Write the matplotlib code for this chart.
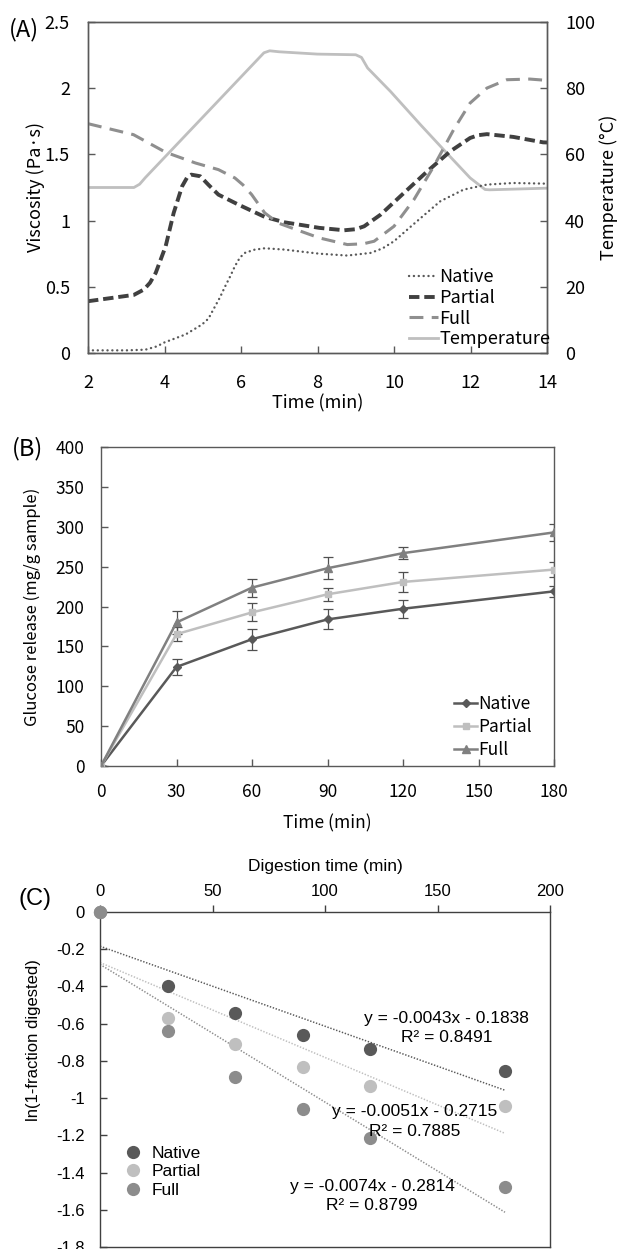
import matplotlib
matplotlib.use("Agg")
import matplotlib.pyplot as plt
from matplotlib.ticker import FuncFormatter
import numpy as np

plt.rcParams['axes.unicode_minus'] = False
plt.rcParams['lines.scale_dashes'] = False

# ---------------- Panel A data (RVA pasting) ----------------
native_t = [2.0, 3.0, 3.5, 3.8, 4.0, 4.55, 4.98, 5.15, 5.28, 5.45, 5.58, 5.72, 5.84, 5.97, 6.10,
            6.35, 6.62, 7.14, 7.6, 8.05, 8.78, 9.39, 9.7, 10.0, 10.3, 10.6, 11.21, 11.82, 12.43, 13.12, 14.0]
native_v = [0.02, 0.02, 0.025, 0.05, 0.08, 0.14, 0.215, 0.26, 0.33, 0.42, 0.50, 0.58, 0.655, 0.72, 0.756,
            0.78, 0.791, 0.781, 0.765, 0.75, 0.736, 0.756, 0.79, 0.844, 0.92, 0.995, 1.146, 1.234, 1.272, 1.284, 1.279]

partial_t = [2.0, 3.2, 3.46, 3.62, 3.77, 4.03, 4.24, 4.46, 4.60, 4.70, 4.935, 5.15, 5.41, 5.93, 6.62,
             7.14, 8.05, 8.70, 9.0, 9.22, 9.65, 10.26, 10.87, 11.47, 11.99, 12.2, 12.43, 13.12, 13.9, 14.0]
partial_v = [0.391, 0.439, 0.479, 0.53, 0.605, 0.806, 1.058, 1.259, 1.33, 1.347, 1.335, 1.27, 1.196, 1.121, 1.028,
             0.987, 0.945, 0.927, 0.935, 0.957, 1.045, 1.209, 1.372, 1.523, 1.624, 1.645, 1.653, 1.632, 1.591, 1.59]

full_t = [2.0, 3.19, 4.03, 4.81, 5.41, 5.84, 6.05, 6.28, 6.62, 6.97, 7.49, 8.05, 8.78, 9.2, 9.48,
          10.0, 10.52, 11.04, 11.56, 11.99, 12.43, 12.95, 13.55, 14.0]
full_v = [1.732, 1.649, 1.516, 1.435, 1.385, 1.322, 1.27, 1.196, 1.058, 0.982, 0.927, 0.869, 0.819, 0.825, 0.844,
          0.957, 1.158, 1.41, 1.687, 1.888, 2.001, 2.064, 2.069, 2.059]

temp_t = [2.0, 3.2, 3.35, 3.5, 6.6, 6.75, 7.0, 8.0, 9.0, 9.15, 9.31, 9.91, 10.69, 11.38, 11.99, 12.38, 12.5, 14.0]
temp_v = [50, 50, 51, 53, 90.7, 91.3, 91.0, 90.3, 90.1, 89.3, 86.1, 79, 69, 60.4, 52.9, 49.4, 49.3, 49.8]

# ---------------- Panel B data (glucose release) ----------------
b_time = [0, 30, 60, 90, 120, 180]
b_native = [0, 124.2, 159.0, 183.8, 197.2, 219.0]
b_native_err = [0, 10.0, 13.4, 12.6, 11.3, 7.0]
b_partial = [0, 165.3, 192.6, 215.3, 230.8, 246.3]
b_partial_err = [0, 9.0, 11.3, 7.8, 12.0, 9.0]
b_full = [0, 180.0, 223.7, 248.0, 266.9, 292.9]
b_full_err = [0, 14.0, 11.3, 14.0, 7.3, 11.0]

# ---------------- Panel C data (first-order kinetics) ----------------
c_time = [0, 30, 60, 90, 120, 180]
c_native = [0, -0.395, -0.543, -0.659, -0.738, -0.856]
c_partial = [0, -0.570, -0.707, -0.834, -0.935, -1.043]
c_full = [0, -0.641, -0.888, -1.061, -1.213, -1.477]
c_slopes = [-0.0043, -0.0051, -0.0074]
c_intercepts = [-0.1838, -0.2715, -0.2814]
c_r2 = [0.8491, 0.7885, 0.8799]
c_fit_range = [0, 180]

W, H = 618, 1249
fig = plt.figure(figsize=(W / 100, H / 100), dpi=100)

def fbox(l, t, r, b):
    return [l / W, 1 - b / H, (r - l) / W, (b - t) / H]

KR = ['Noto Sans CJK KR', 'DejaVu Sans']
AR = ['Liberation Sans', 'DejaVu Sans']
spine_c = '#595959'

def g_fmt(v, pos):
    return ('%g' % (round(v, 2) + 0.0))

# ================= Panel A =================
axA = fig.add_axes(fbox(88, 22, 547, 353))
axA2 = axA.twinx()
col_nat, col_par, col_full, col_temp = '#595959', '#404040', '#8f8f8f', '#bfbfbf'
lt, = axA2.plot(temp_t, temp_v, color=col_temp, lw=2.0, solid_joinstyle='round', label='Temperature')
ln, = axA.plot(native_t, native_v, color=col_nat, lw=1.7, linestyle=(0, (0.1, 3.4)),
               dash_capstyle='round', label='Native')
lp, = axA.plot(partial_t, partial_v, color=col_par, lw=2.8, linestyle=(0, (7.5, 3.5)), label='Partial')
lf, = axA.plot(full_t, full_v, color=col_full, lw=2.2, linestyle=(0, (10, 6)), label='Full')
axA.set_zorder(axA2.get_zorder() + 1)
axA.patch.set_visible(False)
axA.set_xlim(2, 14)
axA.set_ylim(0, 2.5)
axA2.set_ylim(0, 100)
axA.set_xticks(np.arange(2, 15, 2))
axA.set_yticks(np.arange(0, 2.51, 0.5))
axA2.set_yticks(np.arange(0, 101, 20))
axA.yaxis.set_major_formatter(FuncFormatter(g_fmt))
for ax in (axA, axA2):
    for s in ax.spines.values():
        s.set_color(spine_c)
        s.set_linewidth(1.0)
    ax.tick_params(direction='in', length=5, width=1, color=spine_c, labelsize=13, pad=13)
    for lab in ax.get_xticklabels() + ax.get_yticklabels():
        lab.set_family(KR)
axA.tick_params(axis='x', pad=15)
axA.set_xlabel('Time (min)', fontsize=13, family=KR)
axA.xaxis.set_label_coords(0.5, -0.124)
axA.set_ylabel('Viscosity (Pa·s)', fontsize=13, family=KR)
axA.yaxis.set_label_coords(-0.094, 0.5)
axA2.set_ylabel('Temperature (°C)', fontsize=13, family=KR)
axA2.yaxis.set_label_coords(1.113, 0.5)
legA = axA.legend(handles=[ln, lp, lf, lt], loc='upper left', bbox_to_anchor=(0.70, 0.256),
                  frameon=False, borderpad=0, borderaxespad=0, handlelength=1.6, handletextpad=0.05,
                  labelspacing=0.15, prop={'family': KR, 'size': 13})
fig.text(9 / W, 1 - 30 / H, '(A)', fontsize=17, family=KR, va='center', ha='left')

# ================= Panel B =================
axB = fig.add_axes(fbox(101, 447, 554, 766))
cb_nat, cb_par, cb_full = '#595959', '#bfbfbf', '#808080'
err_c = '#505050'
hb = []
for y, e, col, mk, ms, lab in [(b_native, b_native_err, cb_nat, 'D', 4.5, 'Native'),
                               (b_partial, b_partial_err, cb_par, 's', 5, 'Partial'),
                               (b_full, b_full_err, cb_full, '^', 5.5, 'Full')]:
    axB.errorbar(b_time, y, yerr=e, fmt='none', ecolor=err_c, elinewidth=0.9, capsize=3.5, capthick=0.9, zorder=2)
    h, = axB.plot(b_time, y, color=col, lw=1.8, marker=mk, markersize=ms, markerfacecolor=col,
                  markeredgecolor=col, label=lab, zorder=3)
    hb.append(h)
axB.set_xlim(0, 180)
axB.set_ylim(0, 400)
axB.set_xticks(b_time[:5] + [150, 180])
axB.set_yticks(np.arange(0, 401, 50))
for s in axB.spines.values():
    s.set_color(spine_c)
    s.set_linewidth(1.0)
axB.tick_params(direction='in', length=5, width=1, color=spine_c, labelsize=12.5, pad=12)
axB.tick_params(axis='x', pad=12)
for lab in axB.get_xticklabels() + axB.get_yticklabels():
    lab.set_family(KR)
axB.set_xlabel('Time (min)', fontsize=12.5, family=KR)
axB.xaxis.set_label_coords(0.5, -0.150)
axB.set_ylabel('Glucose release (mg/g sample)', fontsize=12, family=KR)
axB.yaxis.set_label_coords(-0.132, 0.5)
axB.legend(handles=hb, loc='upper left', bbox_to_anchor=(0.78, 0.222), frameon=False, borderpad=0,
           borderaxespad=0, handlelength=1.3, handletextpad=0.1, labelspacing=0.29,
           prop={'family': KR, 'size': 12.5})
fig.text(12 / W, 1 - 449 / H, '(B)', fontsize=17, family=KR, va='center', ha='left')

# ================= Panel C =================
axC = fig.add_axes(fbox(100, 912, 550, 1247))
cc = ['#595959', '#bfbfbf', '#8c8c8c']
names = ['Native', 'Partial', 'Full']
hc = []
xf = np.array(c_fit_range, dtype=float)
for i in range(3):
    axC.plot(xf, c_slopes[i] * xf + c_intercepts[i], color=cc[i], lw=1.1,
             linestyle=(0, (1.0, 1.2)), zorder=2)
for i, y in enumerate([c_native, c_partial, c_full]):
    h, = axC.plot(c_time, y, linestyle='none', marker='o', markersize=9.5, color=cc[i],
                  markeredgewidth=0, label=names[i], zorder=3 + i, clip_on=False)
    hc.append(h)
axC.set_xlim(0, 200)
axC.set_ylim(-1.8, 0)
axC.xaxis.set_ticks_position('top')
axC.xaxis.set_label_position('top')
axC.set_xticks(np.arange(0, 201, 50))
axC.set_yticks(np.arange(-1.8, 0.01, 0.2))
axC.yaxis.set_major_formatter(FuncFormatter(lambda v, p: '%g' % (round(v, 1) + 0.0)))
for s in axC.spines.values():
    s.set_color('#404040')
    s.set_linewidth(1.0)
axC.tick_params(axis='x', direction='out', length=5, width=1, color='#404040', labelsize=12, pad=4)
axC.tick_params(axis='y', direction='in', length=5, width=1, color='#404040', labelsize=12, pad=11)
for lab in axC.get_xticklabels() + axC.get_yticklabels():
    lab.set_family(AR)
axC.set_xlabel('Digestion time (min)', fontsize=12.5, family=AR)
axC.xaxis.set_label_coords(0.5, 1.122)
axC.set_ylabel('ln(1-fraction digested)', fontsize=12, family=AR)
axC.yaxis.set_label_coords(-0.131, 0.618)
ann_xy = [(154, -0.574, -0.677), (140, -1.072, -1.177), (121, -1.475, -1.578)]
for i, (tx, ty1, ty2) in enumerate(ann_xy):
    axC.text(tx, ty1, 'y = %gx - %g' % (c_slopes[i], -c_intercepts[i]), fontsize=12.5, family=AR,
             ha='center', va='center', zorder=10)
    axC.text(tx, ty2, 'R² = %.4f' % c_r2[i], fontsize=12.5, family=AR, ha='center', va='center', zorder=10)
axC.legend(handles=hc, loc='upper left', bbox_to_anchor=(0.055, 0.303), frameon=False, borderpad=0,
           borderaxespad=0, handlelength=1.0, handletextpad=0.55, labelspacing=0.2,
           prop={'family': AR, 'size': 12.5})
fig.text(18 / W, 1 - 899 / H, '(C)', fontsize=17, family=AR, va='center', ha='left')

fig.savefig('out.png', dpi=100)
